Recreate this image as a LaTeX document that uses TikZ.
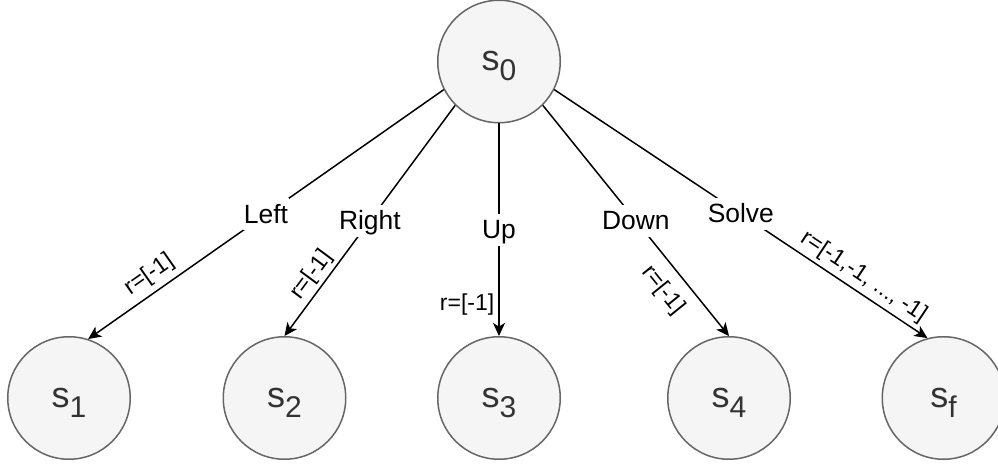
\documentclass[tikz,border=0pt]{standalone}
\usepackage{fontspec}
\setmainfont{Liberation Sans}
\usetikzlibrary{arrows.meta}
\definecolor{nodefill}{HTML}{F5F5F5}
\definecolor{nodeline}{HTML}{666666}
\definecolor{nodetext}{HTML}{333333}
% state name: "s" with a lowered, smaller index
\newcommand{\statelbl}[1]{\fontsize{36}{36}\selectfont s\raisebox{-10pt}{\fontsize{30}{30}\selectfont #1}}
\begin{document}
\begin{tikzpicture}[x=1pt,y=-1pt,
  state/.style={circle, draw=nodeline, fill=nodefill, line width=1.5pt,
    minimum size=122.5pt, inner sep=0pt, text=nodetext,
    text height=28pt, text depth=10pt},
  act/.style={fill=white, font=\fontsize{26.4}{26.4}\selectfont,
    inner xsep=1pt, inner ysep=0pt, text height=23.6pt, text depth=5.4pt,
    minimum height=31.7pt},
  rew/.style={font=\fontsize{23}{23}\selectfont, inner sep=0pt,
    text height=16.7pt, text depth=4.8pt},
  link/.style={draw=black, line width=1.5pt,
    -{Stealth[length=13pt,width=12pt,inset=3.5pt]}}
]
\useasboundingbox (0,0) rectangle (998,465);

% states
\node[state] (s0) at (499,61.5) {\statelbl{0}};
\node[state] (s1) at (69,398)   {\statelbl{1}};
\node[state] (s2) at (284.5,398) {\statelbl{2}};
\node[state] (s3) at (499,398)  {\statelbl{3}};
\node[state] (s4) at (729,398)  {\statelbl{4}};
\node[state] (sf) at (943.5,398) {\statelbl{f}};

% actions with their rewards
\draw[link] (s0.207) -- node[act] {Left}
  node[rew, pos=0.80, sloped, above=6pt] {r=[-1]} (s1.72);
\draw[link] (s0.225) -- node[act] {Right}
  node[rew, pos=0.773, sloped, above=3pt] {r=[-1]} (s2.90);
\draw[link] (s0.270) -- node[act] {Up}
  node[rew, pos=0.854, left=4pt] {r=[-1]} (s3.90);
\draw[link] (s0.-45) -- node[act] {Down}
  node[rew, pos=0.74, sloped, below=11pt] {r=[-1]} (s4.90);
\draw[link] (s0.-27) -- node[act] {Solve}
  node[rew, pos=0.806, sloped, above=4pt] {r=[-1,-1, ..., -1]} (sf.105);
\end{tikzpicture}
\end{document}
